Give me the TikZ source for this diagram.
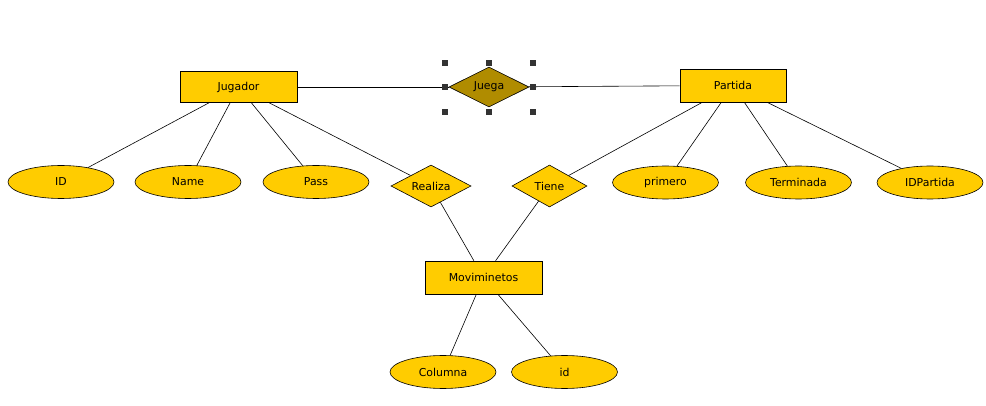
\documentclass[tikz,border=0pt]{standalone}
\usepackage{fontspec}
\setmainfont{DejaVu Sans}
\usetikzlibrary{shapes.geometric}
\definecolor{erfill}{RGB}{255,204,0}
\definecolor{selfill}{RGB}{176,140,0}
\tikzset{
  entity/.style={draw, fill=erfill, minimum width=117pt, minimum height=31pt, inner sep=0pt},
  attrib/.style={draw, ellipse, fill=erfill, minimum width=106pt, minimum height=33pt, inner sep=0pt},
  relation/.style={draw, diamond, aspect=2, fill=erfill, minimum width=80pt, minimum height=42pt, inner sep=0pt},
  handle/.style={fill=black!80, draw=none},
}
\begin{document}
\begin{tikzpicture}[x=1pt, y=-1pt, line width=0.6pt,
    every node/.style={font=\fontsize{10.9pt}{13pt}\selectfont}]
  \useasboundingbox[fill=white] (0,0) rectangle (986,406);
  % entities
  \node [entity] (jugador) at (238.5,87) {Jugador};
  \node [entity, minimum width=106pt, minimum height=33pt] (partida) at (733,85.5) {Partida};
  \node [entity, minimum height=33pt] (movim) at (483.5,277.5) {Moviminetos};
  % relations
  \node [relation, fill=selfill, minimum height=40pt] (juega) at (489,87) {Juega};
  \node [relation] (realiza) at (431,186) {Realiza};
  \node [relation, minimum width=75pt] (tiene) at (549.5,186) {Tiene};
  % attributes
  \node [attrib] (id) at (61,182) {ID};
  \node [attrib] (name) at (188,182) {Name};
  \node [attrib] (pass) at (316,182) {Pass};
  \node [attrib] (primero) at (665.5,182.5) {primero};
  \node [attrib] (terminada) at (798.5,182.5) {Terminada};
  \node [attrib] (idpartida) at (930,182.5) {IDPartida};
  \node [attrib] (columna) at (443,372) {Columna};
  \node [attrib] (idmov) at (564.5,372) {id};
  % links
  \draw (jugador) -- (juega);
  \draw (juega) -- (partida);
  \foreach \a in {id, name, pass, realiza}
  {
    \draw (jugador) -- (\a);
  }
  \foreach \a in {tiene, primero, terminada, idpartida}
  {
    \draw (partida) -- (\a);
  }
  \draw (realiza) -- (movim);
  \draw (tiene) -- (movim);
  \draw (movim) -- (columna);
  \draw (movim) -- (idmov);
  % selection handles round Juega
  \foreach \hx/\hy in {445/63, 489/63, 533/63, 445/87, 533/87, 445/112, 489/112, 533/112}
  {
    \fill [handle] (\hx-2.6,\hy-2.6) rectangle ++(5.2,5.2);
  }
\end{tikzpicture}
\end{document}
